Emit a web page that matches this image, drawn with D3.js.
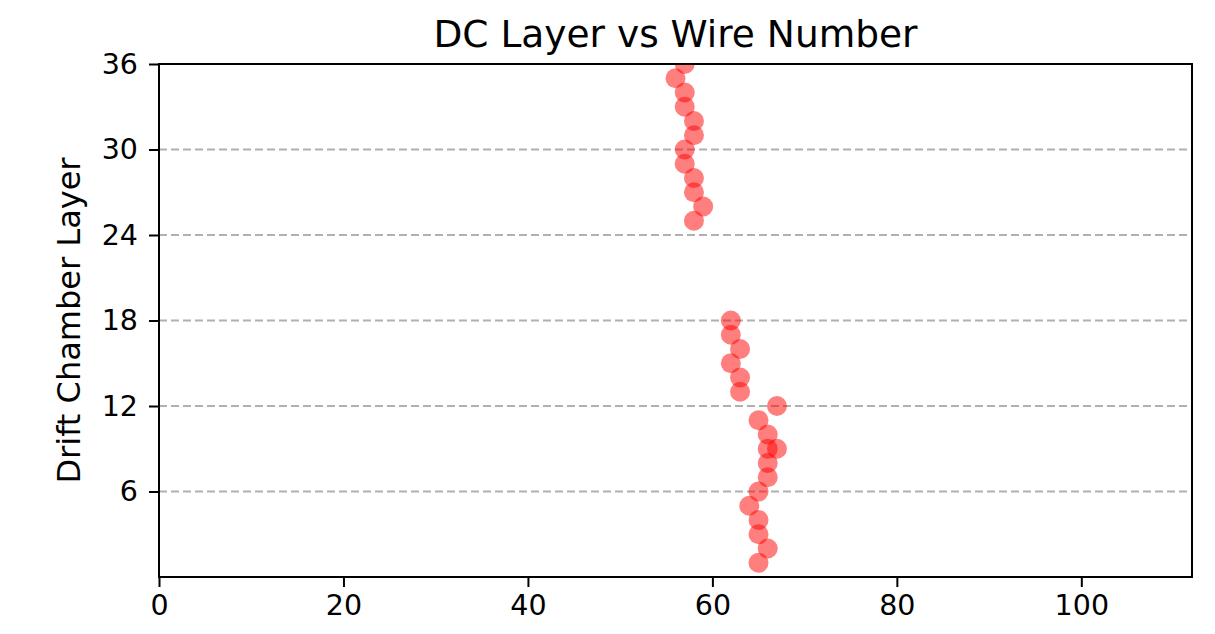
<!DOCTYPE html>
<html>
<head>
<meta charset="utf-8">
<script src="https://cdn.jsdelivr.net/npm/d3@7"></script>
<style>
  body { margin: 0; background: #fff; }
  svg { font-family: "DejaVu Sans", sans-serif; }
</style>
</head>
<body>
<div id="chart"></div>
<script>
// hit data: drift chamber layer and wire number
const layers = [1, 2, 3, 4, 5, 6, 7, 8, 9, 9, 10, 11, 12, 13, 14, 15, 16, 17, 18,
                25, 26, 27, 28, 29, 30, 31, 32, 33, 34, 35, 36];
const wires = [65, 66, 65, 65, 64, 65, 66, 66, 66, 67, 66, 65, 67, 63, 63, 62, 63, 62, 62,
               58, 59, 58, 58, 57, 57, 58, 58, 57, 57, 56, 57];
const xTicks = [0, 20, 40, 60, 80, 100];
const yTicks = [6, 12, 18, 24, 30, 36];

const width = 1215, height = 634;
const margin = {top: 64, right: 23, bottom: 57, left: 159};

const svg = d3.select("#chart").append("svg")
    .attr("width", width)
    .attr("height", height);

const x = d3.scaleLinear().domain([0, 112]).range([margin.left, width - margin.right]);
const y = d3.scaleLinear().domain([0, 36]).range([height - margin.bottom, margin.top]);

// clip markers to the axes box
svg.append("clipPath").attr("id", "clip")
    .append("rect")
    .attr("x", margin.left)
    .attr("y", margin.top)
    .attr("width", width - margin.left - margin.right)
    .attr("height", height - margin.top - margin.bottom);

// dashed grid on y
svg.append("g")
    .selectAll("line")
    .data(yTicks.filter(d => d < 36))
    .enter()
    .append("line")
    .attr("x1", margin.left)
    .attr("x2", width - margin.right)
    .attr("y1", d => y(d))
    .attr("y2", d => y(d))
    .attr("stroke", "#b0b0b0")
    .attr("stroke-width", 2)
    .attr("stroke-dasharray", "8,4");

// points
svg.append("g")
    .attr("clip-path", "url(#clip)")
    .selectAll("circle")
    .data(layers)
    .enter()
    .append("circle")
    .attr("cx", (d, i) => x(wires[i]))
    .attr("cy", d => y(d))
    .attr("r", 10)
    .attr("fill", "red")
    .attr("fill-opacity", 0.5);

// axes
const xAxis = svg.append("g")
    .attr("transform", `translate(0,${height - margin.bottom})`)
    .call(d3.axisBottom(x).tickValues(xTicks).tickSize(10).tickPadding(8).tickSizeOuter(0));
const yAxis = svg.append("g")
    .attr("transform", `translate(${margin.left},0)`)
    .call(d3.axisLeft(y).tickValues(yTicks).tickSize(10).tickPadding(11).tickSizeOuter(0));

[xAxis, yAxis].forEach(a => {
    a.select(".domain").remove();
    a.selectAll("line").attr("stroke", "#000").attr("stroke-width", 2);
    a.selectAll("text").attr("font-size", 28.5).attr("fill", "#000")
        .attr("font-family", "DejaVu Sans");
});

// frame
svg.append("rect")
    .attr("x", margin.left)
    .attr("y", margin.top)
    .attr("width", width - margin.left - margin.right)
    .attr("height", height - margin.top - margin.bottom)
    .attr("fill", "none")
    .attr("stroke", "#000")
    .attr("stroke-width", 2);

// title and label
svg.append("text")
    .attr("x", (margin.left + width - margin.right) / 2)
    .attr("y", 47)
    .attr("text-anchor", "middle")
    .attr("font-size", 37.5)
    .text("DC Layer vs Wire Number");

svg.append("text")
    .attr("transform", `translate(80,${(margin.top + height - margin.bottom) / 2}) rotate(-90)`)
    .attr("text-anchor", "middle")
    .attr("font-size", 32)
    .text("Drift Chamber Layer");
</script>
</body>
</html>
